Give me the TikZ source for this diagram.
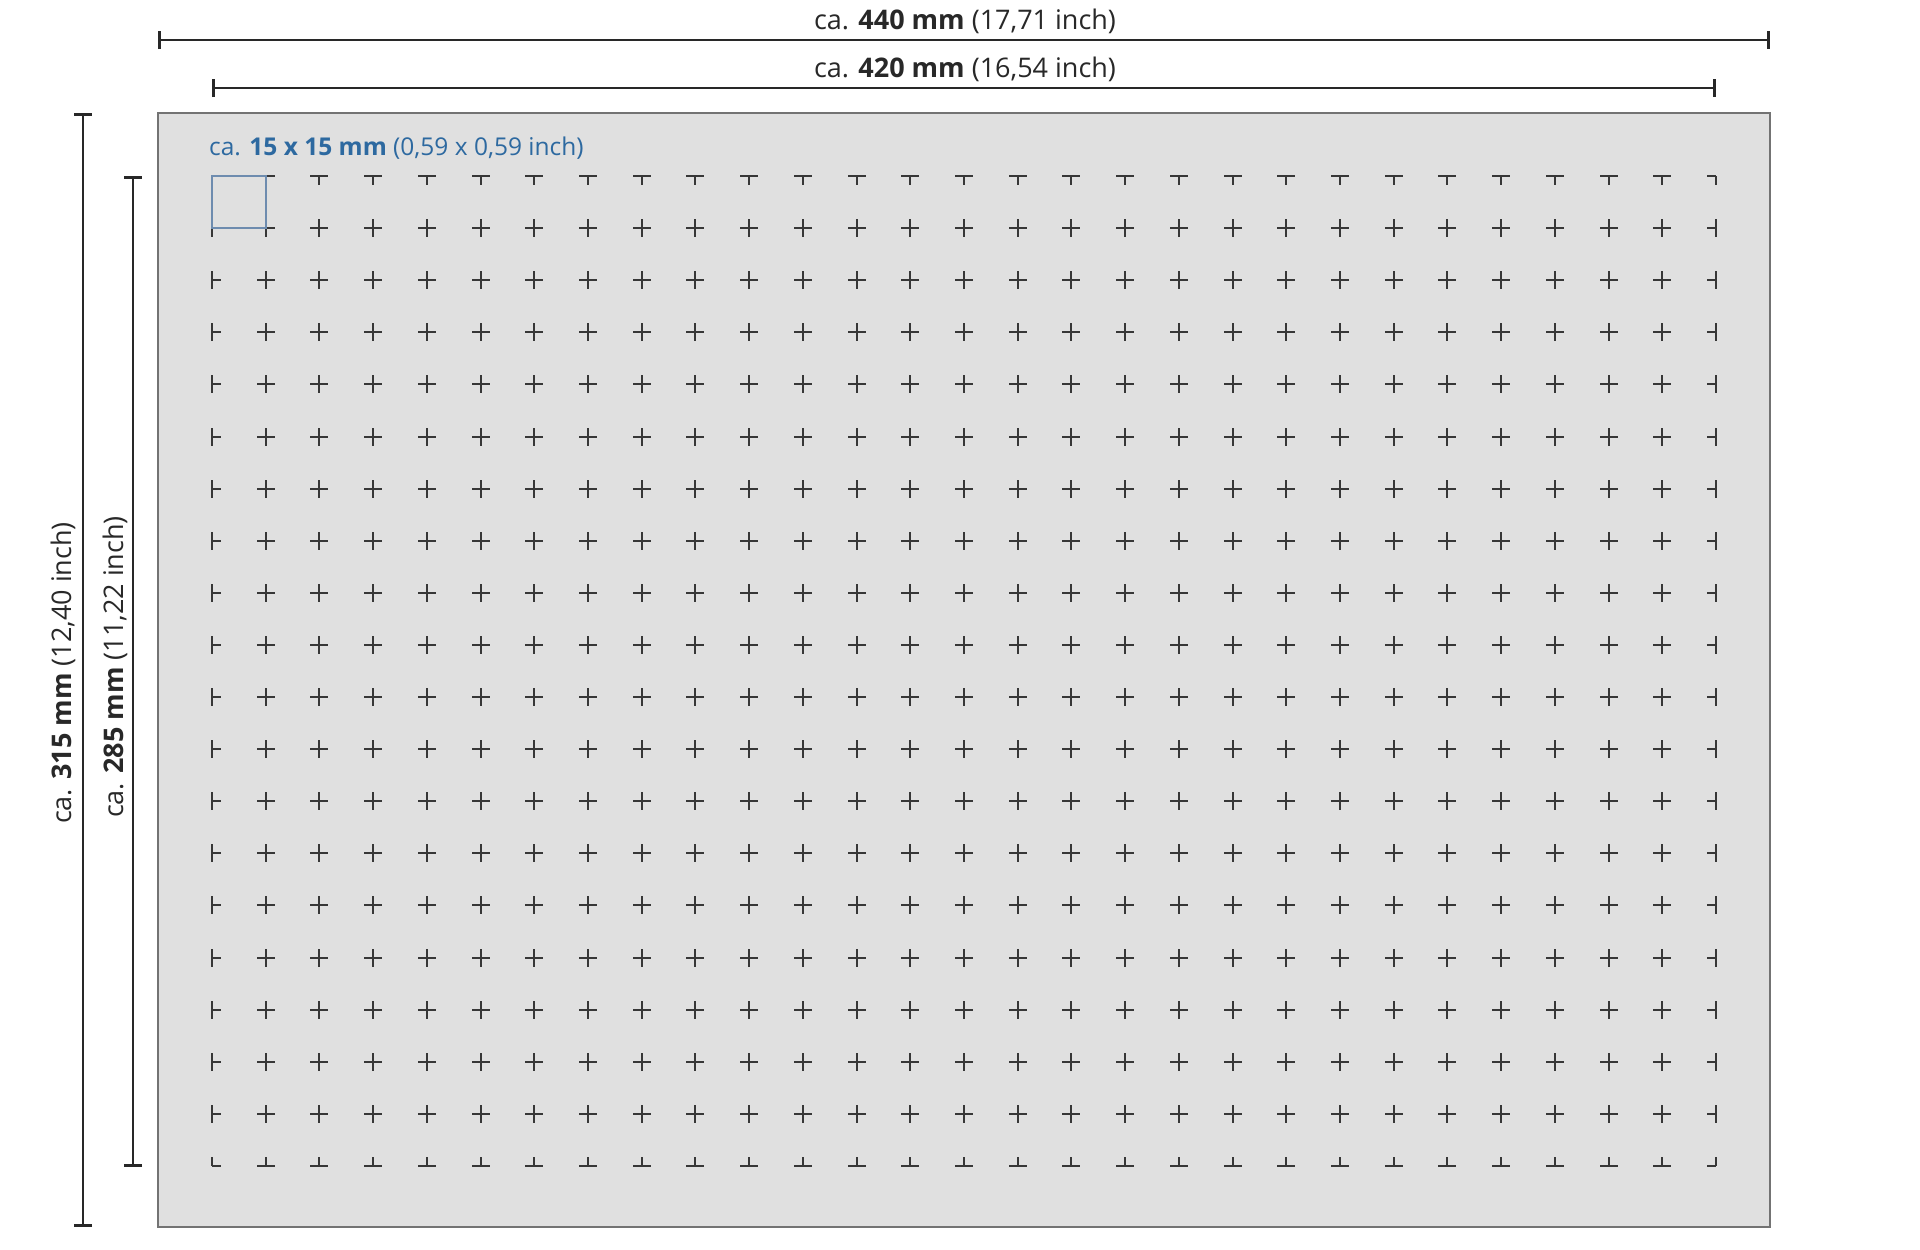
\documentclass[tikz,border=0pt]{standalone}
\usepackage{fontspec}
\setmainfont{Open Sans}
\usetikzlibrary{arrows.meta}
\definecolor{panelfill}{RGB}{224,224,224}
\definecolor{paneldraw}{RGB}{115,115,115}
\definecolor{dimcol}{RGB}{40,40,40}
\definecolor{markcol}{RGB}{55,55,55}
\definecolor{bluetxt}{RGB}{45,105,160}
\definecolor{bluebox}{RGB}{110,140,175}
\tikzset{
  panel/.style={fill=panelfill, draw=paneldraw, line width=2pt},
  dimline/.style={draw=dimcol, line width=2.6pt, {Bar[width=18pt]}-{Bar[width=18pt]}},
  dimlabel/.style={text=dimcol, font=\fontsize{27}{32}\selectfont, inner sep=0pt},
  gridmark/.style={draw=markcol, line width=2pt},
  cellbox/.style={draw=bluebox, line width=1.6pt},
  celllabel/.style={text=bluetxt, font=\fontsize{24.5}{29}\selectfont, inner sep=0pt}
}
\begin{document}
\begin{tikzpicture}[x=1pt,y=-1pt]
\useasboundingbox (0,0) rectangle (1920,1250);
\fill[white] (0,0) rectangle (1920,1250);
% panel
\draw[panel] (158,113) rectangle (1770,1227);
% dimension coordinates
\coordinate (w1l) at (158,40);
\coordinate (w1r) at (1770,40);
\coordinate (w2l) at (212,88);
\coordinate (w2r) at (1716,88);
\coordinate (h1t) at (83,113);
\coordinate (h1b) at (83,1227);
\coordinate (h2t) at (133,176);
\coordinate (h2b) at (133,1167);
\draw[dimline] (w1l) -- (w1r);
\draw[dimline] (w2l) -- (w2r);
\draw[dimline] (h1t) -- (h1b);
\draw[dimline] (h2t) -- (h2b);
\node[dimlabel] (lw1) at (965,21) {ca. \textbf{440 mm} (17,71 inch)};
\node[dimlabel] (lw2) at (965,69) {ca. \textbf{420 mm} (16,54 inch)};
\node[dimlabel, rotate=90] (lh1) at (63,673) {ca. \textbf{315 mm} (12,40 inch)};
\node[dimlabel, rotate=90] (lh2) at (115,667) {ca. \textbf{285 mm} (11,22 inch)};
% grid marks
\foreach \i in {0,...,28} {
  \foreach \j in {0,...,19} {
    \pgfmathsetmacro\px{round(212+\i*53.714)}
    \pgfmathsetmacro\py{round(176+\j*52.105)}
    \pgfmathsetmacro\al{\i>0?9:0}
    \pgfmathsetmacro\ar{\i<28?9:0}
    \pgfmathsetmacro\au{\j>0?9:0}
    \pgfmathsetmacro\ad{\j<19?9:0}
    \draw[gridmark] (\px-\al,\py) -- (\px+\ar,\py)
                    (\px,\py-\au) -- (\px,\py+\ad);
  }
}
% cell box and label
\draw[cellbox] (212,176) rectangle (266,228);
\node[celllabel, anchor=base west] (lcell) at (209,155) {ca. \textbf{15 x 15 mm} (0,59 x 0,59 inch)};
\end{tikzpicture}
\end{document}
